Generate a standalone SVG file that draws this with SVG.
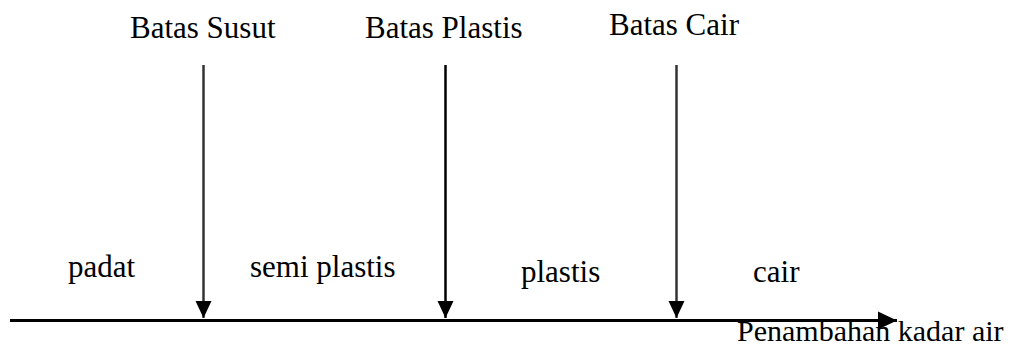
<svg xmlns="http://www.w3.org/2000/svg" width="1019" height="347" viewBox="0 0 1019 347">
<style>
text{font-family:"Liberation Serif","Times New Roman",serif;font-size:31px;fill:#000}
.v{stroke:#333;stroke-width:2.5;fill:none}
.h{stroke:#000;stroke-width:3;fill:none}
</style>
<defs>
<marker id="ahv" markerUnits="userSpaceOnUse" markerWidth="18" markerHeight="18" viewBox="0 0 18 18" refX="17" refY="9" orient="auto">
<path d="M0,1 L17,9 L0,17 Z" fill="#000"/>
</marker>
<marker id="ahh" markerUnits="userSpaceOnUse" markerWidth="20" markerHeight="20" viewBox="0 0 20 20" refX="19" refY="10" orient="auto">
<path d="M0,1 L19,10 L0,19 Z" fill="#000"/>
</marker>
</defs>
<g id="connectors">
<line class="v" x1="203.5" y1="65" x2="203.5" y2="318" marker-end="url(#ahv)"/>
<line class="v" x1="445.5" y1="65" x2="445.5" y2="318" marker-end="url(#ahv)" style="stroke:#000"/>
<line class="v" x1="676.5" y1="65" x2="676.5" y2="318" marker-end="url(#ahv)"/>
<line class="h" x1="10" y1="320.5" x2="897" y2="320.5" marker-end="url(#ahh)"/>
</g>
<g id="batas-susut"><text x="130" y="38">Batas Susut</text></g>
<g id="batas-plastis"><text x="365" y="38">Batas Plastis</text></g>
<g id="batas-cair"><text x="609" y="35">Batas Cair</text></g>
<g id="padat"><text x="68" y="277">padat</text></g>
<g id="semi-plastis"><text x="250" y="277">semi plastis</text></g>
<g id="plastis"><text x="521" y="282">plastis</text></g>
<g id="cair"><text x="753" y="282">cair</text></g>
<g id="axis-label"><text x="737" y="341" style="font-size:30px">Penambahan kadar air</text></g>
</svg>
